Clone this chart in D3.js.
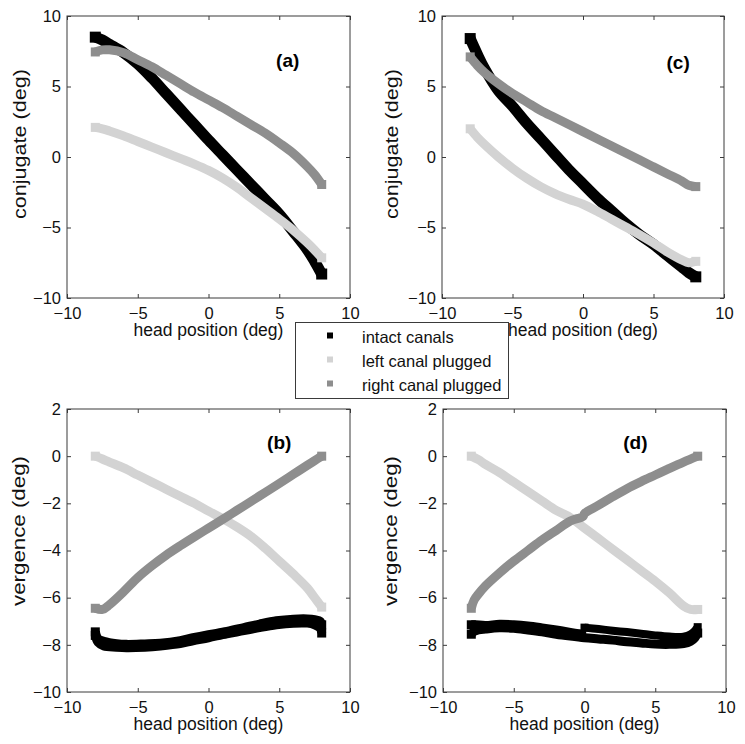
<!DOCTYPE html>
<html><head><meta charset="utf-8">
<script src="https://cdn.jsdelivr.net/npm/d3@7"></script>
<style>
body{margin:0;background:#fff}
svg{display:block}
text{font-family:"Liberation Sans",Arial,Helvetica,sans-serif}
</style>
</head><body>
<svg id="chart" width="745" height="744"></svg>
<script>
// ---------------- data ----------------
const seriesNames = ["intact canals", "left canal plugged", "right canal plugged"];
const seriesColors = ["#000000", "#d3d3d3", "#8e8e8e"];

const xTicks = [-10, -5, 0, 5, 10];
const conjTicks = [-10, -5, 0, 5, 10];
const vergTicks = [-10, -8, -6, -4, -2, 0, 2];

const headPos = [-8, -7.5, -7, -6, -5, -4, -3, -2, -1, 0, 1, 2, 3, 4, 5, 6, 7, 7.5, 8];

// panel (a) conjugate
const conjIntactA = [8.5, 8.3, 8.0, 7.4, 6.6, 5.6, 4.5, 3.4, 2.3, 1.2, 0.15, -0.9, -1.95, -3.0, -4.05, -5.3, -6.6, -7.4, -8.3];
const conjLeftA   = [2.1, 2.0, 1.85, 1.5, 1.1, 0.7, 0.3, -0.1, -0.5, -0.95, -1.5, -2.15, -2.9, -3.65, -4.4, -5.2, -6.1, -6.6, -7.15];
const conjRightA  = [7.45, 7.6, 7.6, 7.4, 6.9, 6.4, 5.8, 5.2, 4.6, 4.05, 3.5, 2.9, 2.3, 1.7, 1.0, 0.25, -0.7, -1.25, -1.95];

// panel (c) conjugate
const conjIntactC = [8.4, 7.3, 6.3, 4.7, 3.6, 2.4, 1.3, 0.2, -0.9, -1.9, -2.9, -3.8, -4.7, -5.5, -6.2, -7.0, -7.8, -8.2, -8.5];
const conjLeftC   = [2.0, 1.4, 0.9, 0.0, -0.8, -1.5, -2.1, -2.6, -3.0, -3.35, -3.85, -4.4, -4.95, -5.5, -6.1, -6.75, -7.3, -7.5, -7.4];
const conjRightC  = [7.1, 6.5, 6.0, 5.2, 4.5, 3.9, 3.3, 2.8, 2.3, 1.8, 1.3, 0.8, 0.3, -0.2, -0.7, -1.2, -1.7, -2.0, -2.1];

// panel (b) vergence
const vergLeftB  = [0.0, -0.12, -0.25, -0.5, -0.8, -1.1, -1.4, -1.7, -2.0, -2.33, -2.65, -3.0, -3.4, -3.9, -4.45, -5.0, -5.6, -6.0, -6.4];
const vergRightB = [-6.45, -6.5, -6.3, -5.75, -5.15, -4.65, -4.2, -3.8, -3.42, -3.05, -2.68, -2.3, -1.92, -1.54, -1.16, -0.77, -0.38, -0.19, 0.0];
const intactBPos1 = [-8, -7.8, -7.4, -6.5, -5.8, -4.5, -3.4, -2, -1.1, 0, 1.3, 2.5, 3.6, 4.8, 6, 7, 7.5, 7.9, 8];
const vergIntactB1 = [-7.45, -7.75, -7.85, -7.95, -7.98, -7.96, -7.93, -7.82, -7.7, -7.57, -7.43, -7.27, -7.12, -6.98, -6.91, -6.9, -6.93, -7.0, -7.15];
const intactBPos2 = [-8, -7.8, -7.4, -6.5, -5.8, -4.5, -3.4, -2, -1.1, 0, 1.3, 2.5, 3.6, 4.8, 6, 7, 7.5, 7.9, 8];
const vergIntactB2 = [-7.6, -7.9, -8.05, -8.1, -8.12, -8.1, -8.05, -7.95, -7.83, -7.7, -7.53, -7.4, -7.27, -7.15, -7.08, -7.08, -7.15, -7.3, -7.5];

// panel (d) vergence
const vergLeftD  = [0.0, -0.15, -0.35, -0.7, -1.1, -1.5, -1.9, -2.3, -2.6, -3.05, -3.5, -3.95, -4.4, -4.85, -5.3, -5.8, -6.35, -6.5, -6.5];
const rightDPos  = [-8, -7.8, -7.5, -7, -6, -5, -4, -3, -2, -1, -0.1, 0, 1, 2, 3, 4, 5, 6, 7, 8];
const vergRightD = [-6.45, -6.1, -5.85, -5.5, -4.95, -4.45, -4.0, -3.55, -3.15, -2.75, -2.55, -2.43, -2.08, -1.72, -1.38, -1.08, -0.8, -0.52, -0.25, 0.0];
const intactDPosA = [-8, -7.85, -7.5, -7, -6, -5, -4, -3, -2, -1, 0, 1, 2, 3, 4, 5, 6, 7, 7.5, 7.8, 8];
const vergIntactDA = [-7.55, -7.45, -7.37, -7.33, -7.28, -7.3, -7.37, -7.45, -7.55, -7.63, -7.7, -7.75, -7.8, -7.87, -7.92, -7.97, -7.98, -7.95, -7.85, -7.7, -7.5];
const intactDPosB = [-8, -7.7, -7, -6, -5, -4, -3, -2, -1, -0.2];
const vergIntactDB = [-7.15, -7.15, -7.18, -7.13, -7.15, -7.2, -7.28, -7.37, -7.47, -7.55];
const intactDPosC = [0, 1, 2, 3, 4, 5, 6, 7, 7.5, 7.8, 8];
const vergIntactDC = [-7.27, -7.33, -7.4, -7.46, -7.53, -7.6, -7.65, -7.65, -7.55, -7.4, -7.25];

const panelTags = ["(a)", "(b)", "(c)", "(d)"];

// ---------------- layout ----------------
const svg = d3.select("#chart");
svg.append("rect").attr("width", 745).attr("height", 744).attr("fill", "#fff");

const zip = (xs, ys) => xs.map((x, i) => [x, ys[i]]);

const panels = [
  { tag: panelTags[0], frame: {left: 67, top: 16, w: 283, h: 282}, yDomain: [-10, 10], yTicks: conjTicks,
    ylabel: "conjugate (deg)", ylabelPos: [26, 144], tagPos: [5.6, 6.4],
    series: [
      {pts: zip(headPos, conjIntactA), s: 0, w: 11},
      {pts: zip(headPos, conjLeftA), s: 1, w: 9},
      {pts: zip(headPos, conjRightA), s: 2, w: 9}
    ]},
  { tag: panelTags[2], frame: {left: 442, top: 16, w: 282, h: 282}, yDomain: [-10, 10], yTicks: conjTicks,
    ylabel: "conjugate (deg)", ylabelPos: [398, 144], tagPos: [6.75, 6.25],
    series: [
      {pts: zip(headPos, conjIntactC), s: 0, w: 11},
      {pts: zip(headPos, conjLeftC), s: 1, w: 9},
      {pts: zip(headPos, conjRightC), s: 2, w: 9}
    ]},
  { tag: panelTags[1], frame: {left: 67, top: 409, w: 283, h: 283}, yDomain: [-10, 2], yTicks: vergTicks,
    ylabel: "vergence (deg)", ylabelPos: [25, 531], tagPos: [5.0, 0.3],
    series: [
      {pts: zip(intactBPos1, vergIntactB1), s: 0, w: 9},
      {pts: zip(intactBPos2, vergIntactB2), s: 0, w: 9},
      {pts: zip(headPos, vergLeftB), s: 1, w: 9},
      {pts: zip(headPos, vergRightB), s: 2, w: 9}
    ]},
  { tag: panelTags[3], frame: {left: 443, top: 409, w: 283, h: 283}, yDomain: [-10, 2], yTicks: vergTicks,
    ylabel: "vergence (deg)", ylabelPos: [397, 531], tagPos: [3.6, 0.3],
    series: [
      {pts: zip(intactDPosA, vergIntactDA), s: 0, w: 9},
      {pts: zip(intactDPosB, vergIntactDB), s: 0, w: 9},
      {pts: zip(intactDPosC, vergIntactDC), s: 0, w: 8},
      {pts: zip(headPos, vergLeftD), s: 1, w: 9},
      {pts: zip(rightDPos, vergRightD), s: 2, w: 9}
    ]}
];

const tickFont = 16.5;
const labelFont = 17.5;
const axisColor = "#3a3a3a";

panels.forEach(p => {
  const f = p.frame;
  const x = d3.scaleLinear().domain([-10, 10]).range([f.left, f.left + f.w]);
  const y = d3.scaleLinear().domain(p.yDomain).range([f.top + f.h, f.top]);
  const g = svg.append("g");

  // curves (thick marker bands), with square markers at the two ends
  const line = d3.line().x(d => x(d[0])).y(d => y(d[1])).curve(d3.curveCatmullRom.alpha(0.5));
  p.series.forEach(s => {
    const col = seriesColors[s.s];
    g.append("path").attr("d", line(s.pts))
      .attr("fill", "none").attr("stroke", col)
      .attr("stroke-width", s.w).attr("stroke-linecap", "butt").attr("stroke-linejoin", "round");
    const ends = [s.pts[0], s.pts[s.pts.length - 1]];
    g.selectAll(null).data(ends).enter().append("rect")
      .attr("x", d => x(d[0]) - s.w / 2).attr("y", d => y(d[1]) - s.w / 2)
      .attr("width", s.w).attr("height", s.w).attr("fill", col);
  });

  // axes
  const styleAxis = sel => {
    sel.select(".domain").remove();
    sel.selectAll(".tick line").attr("stroke", axisColor);
    sel.selectAll(".tick text").attr("fill", "#111").attr("font-size", tickFont)
      .attr("font-family", "'Liberation Sans', Arial, sans-serif");
  };
  g.append("g").attr("transform", `translate(0,${f.top + f.h})`)
    .call(d3.axisBottom(x).tickValues(xTicks).tickSizeInner(-4).tickSizeOuter(0).tickPadding(9)).call(styleAxis);
  g.append("g").attr("transform", `translate(0,${f.top})`)
    .call(d3.axisTop(x).tickValues(xTicks).tickSizeInner(-4).tickSizeOuter(0).tickFormat("")).call(styleAxis);
  g.append("g").attr("transform", `translate(${f.left},0)`)
    .call(d3.axisLeft(y).tickValues(p.yTicks).tickSizeInner(-4).tickSizeOuter(0).tickPadding(6)).call(styleAxis);
  g.append("g").attr("transform", `translate(${f.left + f.w},0)`)
    .call(d3.axisRight(y).tickValues(p.yTicks).tickSizeInner(-4).tickSizeOuter(0).tickFormat("")).call(styleAxis);

  g.append("rect").attr("x", f.left).attr("y", f.top).attr("width", f.w).attr("height", f.h)
    .attr("fill", "none").attr("stroke", axisColor).attr("stroke-width", 1);

  // labels
  g.append("text").attr("x", f.left + f.w / 2).attr("y", f.top + f.h + 38)
    .attr("text-anchor", "middle").attr("font-size", labelFont).attr("fill", "#111")
    .text("head position (deg)");
  g.append("text")
    .attr("transform", `translate(${p.ylabelPos[0]},${p.ylabelPos[1]}) rotate(-90)`)
    .attr("text-anchor", "middle").attr("font-size", 19).attr("fill", "#111")
    .attr("textLength", 150).attr("lengthAdjust", "spacingAndGlyphs")
    .text(p.ylabel);
  g.append("text").attr("x", x(p.tagPos[0])).attr("y", y(p.tagPos[1]))
    .attr("text-anchor", "middle").attr("font-size", 19).attr("font-weight", "bold").attr("fill", "#000")
    .text(p.tag);
});

// legend
const leg = svg.append("g");
leg.append("rect").attr("x", 295.5).attr("y", 322.5).attr("width", 213).attr("height", 76)
  .attr("fill", "#fff").attr("stroke", axisColor).attr("stroke-width", 1);
seriesNames.forEach((name, i) => {
  const cy = 335.5 + i * 24;
  leg.append("rect").attr("x", 327).attr("y", cy - 3).attr("width", 6).attr("height", 6)
    .attr("fill", seriesColors[i]);
  leg.append("text").attr("x", 362).attr("y", cy + 7.5).attr("font-size", tickFont).attr("fill", "#111")
    .text(name);
});
</script>
</body></html>
